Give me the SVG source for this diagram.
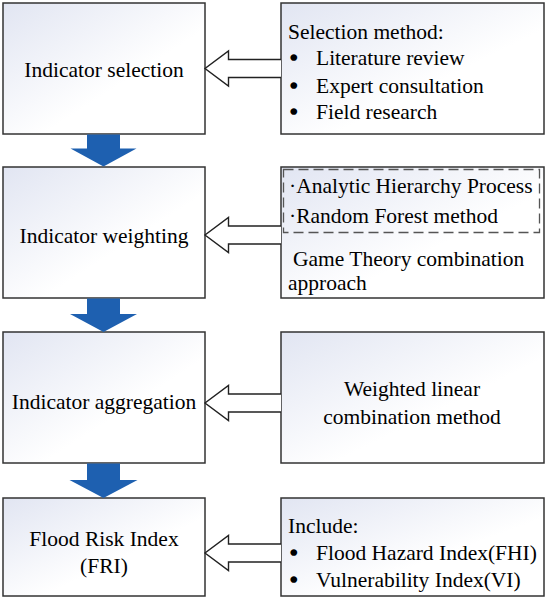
<svg xmlns="http://www.w3.org/2000/svg" width="547" height="600" viewBox="0 0 547 600">
<defs>
<linearGradient id="bg" x1="0" y1="0" x2="1" y2="1">
<stop offset="0" stop-color="#e1e5f2"/>
<stop offset="0.6" stop-color="#ffffff"/>
<stop offset="1" stop-color="#ffffff"/>
</linearGradient>
<style>
.box{fill:url(#bg);stroke:#333;stroke-width:1.5}
.t{font-family:"Liberation Serif","Times New Roman",serif;font-size:21.5px;fill:#000}
.c{text-anchor:middle}
.b{font-family:"Liberation Serif","Times New Roman",serif;font-size:21.5px;fill:#000;stroke:#000;stroke-width:1.6}
.blue{fill:#1e60b0;stroke:none}
.hol{fill:#fff;stroke:#222;stroke-width:1.4;stroke-linejoin:miter}
.dash{fill:none;stroke:#555;stroke-width:1.3;stroke-dasharray:10 5}
</style>
</defs>
<rect width="547" height="600" fill="#fff"/>
<g id="n1">
<rect class="box" x="3" y="3" width="202" height="131"/>
<text class="t c" x="104" y="77">Indicator selection</text>
</g>
<g id="r1">
<rect class="box" x="281" y="3" width="263" height="131"/>
<text class="t" x="288" y="38.5">Selection method:</text>
<text class="b" x="290" y="64.5">•</text>
<text class="t" x="316" y="64.5">Literature review</text>
<text class="b" x="290" y="92.5">•</text>
<text class="t" x="316" y="92.5">Expert consultation</text>
<text class="b" x="290" y="118.6">•</text>
<text class="t" x="316" y="118.6">Field research</text>
</g>
<g id="n2">
<rect class="box" x="3" y="167" width="202" height="131"/>
<text class="t c" x="104" y="243">Indicator weighting</text>
</g>
<g id="r2">
<rect class="box" x="281" y="167" width="263" height="131"/>
<rect class="dash" x="283.5" y="169.5" width="256" height="63"/>
<text class="t" x="289" y="193.3">·Analytic Hierarchy Process</text>
<text class="t" x="289" y="223.3">·Random Forest method</text>
<text class="t" x="293" y="266">Game Theory combination</text>
<text class="t" x="288" y="290">approach</text>
</g>
<g id="n3">
<rect class="box" x="3" y="332" width="202" height="131"/>
<text class="t c" x="104" y="409">Indicator aggregation</text>
</g>
<g id="r3">
<rect class="box" x="281" y="332" width="263" height="131"/>
<text class="t c" x="412" y="396">Weighted linear</text>
<text class="t c" x="412" y="424">combination method</text>
</g>
<g id="n4">
<rect class="box" x="3" y="498" width="202" height="98"/>
<text class="t c" x="104" y="546">Flood Risk Index</text>
<text class="t c" x="104" y="573">(FRI)</text>
</g>
<g id="r4">
<rect class="box" x="281" y="498" width="263" height="98"/>
<text class="t" x="288" y="532.5">Include:</text>
<text class="b" x="290" y="560">•</text>
<text class="t" x="316" y="560">Flood Hazard Index(FHI)</text>
<text class="b" x="290" y="586.5">•</text>
<text class="t" x="316" y="586.5">Vulnerability Index(VI)</text>
</g>
<g id="connectors">
<path class="blue" d="M87,134.5 H120 V148.5 H136.5 L103.5,166.5 L70.5,148.5 H87 Z"/>
<path class="blue" d="M87,298.5 H120 V314 H137 L103.5,332 L70,314 H87 Z"/>
<path class="blue" d="M87,463.5 H120 V480 H137.5 L103.5,498 L69.5,480 H87 Z"/>
<path class="hol" d="M281,59.5 H228.5 V51 L205,68.5 L228.5,86 V77.5 H281"/>
<path class="hol" d="M281,226 H228.5 V217.5 L205,235 L228.5,252.5 V244 H281"/>
<path class="hol" d="M281,394 H228.5 V385.5 L205,403 L228.5,420.5 V412 H281"/>
<path class="hol" d="M281,544 H228.5 V535.5 L205,553 L228.5,570.5 V562 H281"/>
</g>
</svg>
